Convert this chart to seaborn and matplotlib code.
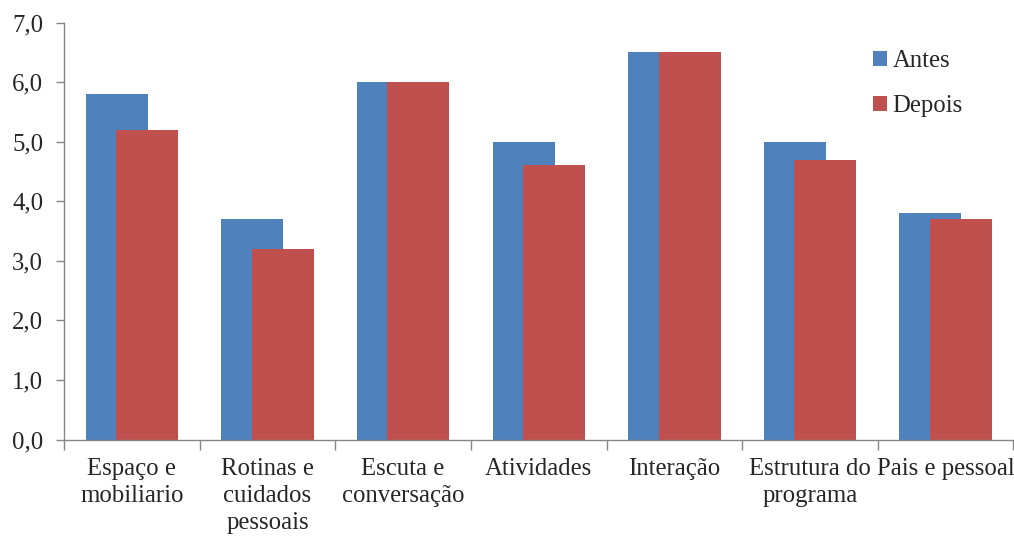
import matplotlib
matplotlib.use("Agg")
import matplotlib.pyplot as plt
from matplotlib.patches import Patch
from matplotlib.ticker import FixedLocator, FuncFormatter
import pandas as pd
import seaborn as sns

categorias = [
    "Espaço e\nmobiliario",
    "Rotinas e\ncuidados\npessoais",
    "Escuta e\nconversação",
    "Atividades",
    "Interação",
    "Estrutura do\nprograma",
    "Pais e pessoal",
]
antes = [5.8, 3.7, 6.0, 5.0, 6.5, 5.0, 3.8]
depois = [5.2, 3.2, 6.0, 4.6, 6.5, 4.7, 3.7]
series = ["Antes", "Depois"]
cores = ["#4F81BD", "#C0504D"]

df = pd.DataFrame({
    "categoria": categorias * 2,
    "valor": antes + depois,
    "serie": [series[0]] * len(categorias) + [series[1]] * len(categorias),
})

sns.set_style("white")
plt.rcParams["font.family"] = ["Liberation Serif", "DejaVu Serif"]
fs = 17.8

fig = plt.figure(figsize=(10.14, 5.36), dpi=100)
ax = fig.add_axes([64 / 1014, (536 - 439.5) / 536, 949.5 / 1014, 417 / 536])

largura = 0.457
desloc = 0.112
sns.barplot(data=df, x="categoria", y="valor", hue="serie", order=categorias,
            hue_order=series, palette=cores, dodge=False, width=largura,
            errorbar=None, linewidth=0, legend=False, saturation=1, ax=ax)

# Excel-style overlapping bars: shift each series off the category centre
for cont, d in zip(ax.containers, (-desloc, desloc)):
    for r in cont:
        r.set_x(r.get_x() + d)

ax.set_xlim(-0.5, len(categorias) - 0.5)
ax.set_ylim(0, 7)
ax.set_yticks(range(0, 8))
ax.yaxis.set_major_formatter(FuncFormatter(lambda v, p: f"{v:.1f}".replace(".", ",")))
ax.set_xlabel("")
ax.set_ylabel("")

ax.xaxis.set_minor_locator(FixedLocator([i - 0.5 for i in range(len(categorias) + 1)]))
ax.tick_params(axis="x", which="major", bottom=True, length=0, pad=13, labelsize=fs)
ax.tick_params(axis="x", which="minor", bottom=True, length=7, width=1.0,
               color="#868686", direction="out")
ax.tick_params(axis="y", left=True, length=6, width=1.0, color="#868686",
               direction="out", pad=9, labelsize=fs)
for lab in ax.get_xticklabels():
    lab.set_linespacing(1.32)

for s in ("top", "right"):
    ax.spines[s].set_visible(False)
for s in ("left", "bottom"):
    ax.spines[s].set_color("#868686")
    ax.spines[s].set_linewidth(1.0)

handles = [Patch(facecolor=c, edgecolor="none", label=s) for s, c in zip(series, cores)]
fig.legend(handles=handles, loc="upper left", bbox_to_anchor=(873 / 1014, 1 - 50 / 536),
           frameon=False, fontsize=fs, handlelength=0.55, handleheight=0.55,
           handletextpad=0.25, labelspacing=0.95, borderpad=0, borderaxespad=0)

fig.savefig("out.png", dpi=100)
